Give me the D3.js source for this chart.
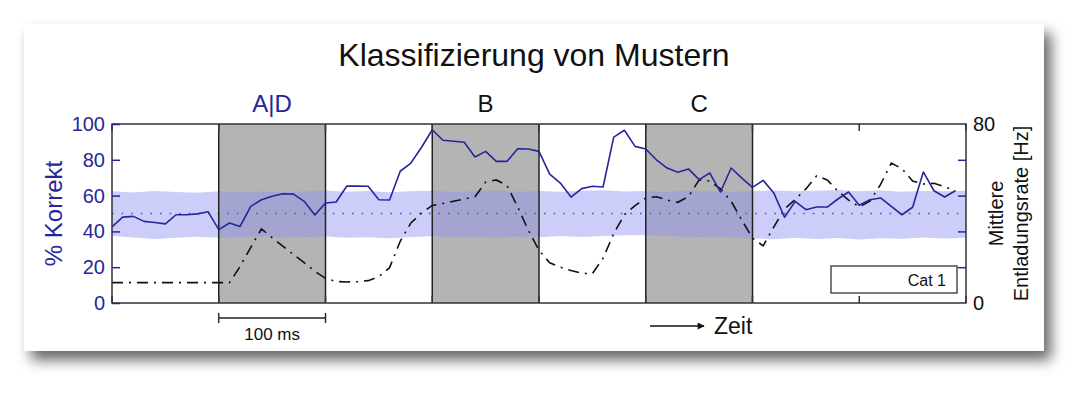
<!DOCTYPE html>
<html>
<head>
<meta charset="utf-8">
<script src="https://cdn.jsdelivr.net/npm/d3@7"></script>
<style>
  body { margin: 0; background: #fff; }
  svg { display: block; font-family: "Liberation Sans", Arial, sans-serif; }
</style>
</head>
<body>
<div id="chart"></div>
<script>
// time axis in ms, samples every 10 ms
const times = d3.range(0, 800, 10);

// % correct (left axis)
const pctCorrect = [
  42.5, 48, 48.4, 45.6, 45, 44.2, 49.3, 49.3, 49.8, 51,
  41, 44.7, 42.8, 54, 57.7, 59.6, 61, 60.8, 56.8, 49.2,
  55.9, 56.4, 65.4, 65.3, 65.2, 57.7, 57.5, 73.6, 78.2, 87,
  96.8, 90.9, 90.4, 89.8, 81.6, 84.7, 79.1, 79.1, 86.2, 86,
  84.7, 72, 67, 59.2, 63.9, 65.2, 64.8, 92.7, 96.5, 87.5,
  86, 80, 75.4, 73, 74.9, 68.9, 72.6, 62, 75.4, 69.8,
  64.6, 68.5, 61.4, 47.9, 56.8, 52.1, 53.6, 53.6, 58.1, 62,
  54.6, 57.7, 58.7, 54, 49.3, 53.5, 73.2, 62.7, 59.2, 62.7
];

// mean firing rate in Hz (right axis)
const firingRate = [
  9.1, 9.1, 9.1, 9.1, 9.1, 9.1, 9.1, 9.1, 9.1, 9.1,
  9.1, 9.1, 16.3, 24.9, 33.1, 29.2, 25.4, 21.7, 18, 14.2,
  11, 9.6, 9.4, 9.5, 10, 11.8, 15.8, 27.6, 35.8, 40.2,
  43.6, 44.5, 45.5, 46.5, 47.5, 54, 55, 52.5, 43, 32.5,
  23.5, 18, 16, 14.5, 13.3, 13.1, 20, 31, 39.5, 43.5,
  46.9, 47.5, 46, 45, 47.5, 55, 54.5, 51, 45.5, 37,
  29, 25.5, 34, 42, 46.3, 51, 56.8, 55, 50, 46,
  43, 45.5, 53, 62.5, 60, 54.5, 53.2, 53.5, 52, 50
];

// chance band (% correct), every 20 ms from 0 to 800
const bandTimes = d3.range(0, 801, 20);
const bandUpper = [
  62.5, 61.8, 62.6, 62.0, 61.6, 62.4, 61.9, 62.3, 61.7, 62.5,
  62.8, 62.2, 62.6, 61.9, 62.4, 62.7, 62.0, 62.4, 62.9, 62.2,
  62.6, 62.1, 62.7, 63.0, 62.3, 62.6, 62.0, 62.8, 62.4, 62.1,
  62.6, 62.9, 62.4, 62.7, 63.1, 62.5, 62.8, 62.2, 62.6, 62.4, 62.7
];
const bandLower = [
  37.5, 36.6, 35.8, 36.5, 37.0, 36.4, 36.8, 37.2, 36.5, 36.9,
  37.2, 36.4, 36.8, 36.2, 36.9, 37.3, 36.6, 37.0, 36.3, 37.1,
  36.7, 37.4, 36.9, 37.5, 37.9, 38.0, 37.4, 36.8, 37.0, 36.6,
  36.2, 35.6, 36.4, 35.8, 36.3, 35.5, 36.2, 35.9, 36.6, 36.1, 36.5
];

// stimulus windows
const stimuli = [
  { start: 100, end: 200, label: "A|D", color: "#24249b" },
  { start: 300, end: 400, label: "B", color: "#111" },
  { start: 500, end: 600, label: "C", color: "#111" }
];

const leftTicks = [0, 20, 40, 60, 80, 100];
const rightTicks = [0, 80];
const timeTicks = d3.range(0, 801, 100);

const blue = "#26269c";

const svg = d3.select("#chart").append("svg")
  .attr("width", 1092)
  .attr("height", 399);

// card with drop shadow
const defs = svg.append("defs");
const f = defs.append("filter").attr("id", "shadow")
  .attr("x", "-5%").attr("y", "-10%").attr("width", "112%").attr("height", "125%");
f.append("feDropShadow")
  .attr("dx", 7).attr("dy", 9).attr("stdDeviation", 7)
  .attr("flood-color", "#000").attr("flood-opacity", 0.6);

svg.append("rect")
  .attr("x", 24).attr("y", 24).attr("width", 1020).attr("height", 327)
  .attr("fill", "#fff")
  .attr("filter", "url(#shadow)");

const x = d3.scaleLinear().domain([0, 800]).range([112, 966]);
const yL = d3.scaleLinear().domain([0, 100]).range([303, 124]);
const yR = d3.scaleLinear().domain([0, 80]).range([303, 124]);

// grey stimulus boxes
svg.selectAll(".stim").data(stimuli).enter().append("rect")
  .attr("x", d => x(d.start))
  .attr("y", yL(100))
  .attr("width", d => x(d.end) - x(d.start))
  .attr("height", yL(0) - yL(100))
  .attr("fill", "#b4b4b4");

// chance band
const band = d3.area()
  .x((d, i) => x(bandTimes[i]))
  .y0((d, i) => yL(bandLower[i]))
  .y1((d, i) => yL(bandUpper[i]));
svg.append("path")
  .datum(bandUpper)
  .attr("d", band)
  .attr("fill", "rgb(146,146,244)")
  .attr("fill-opacity", 0.46);

// 50 % line
svg.append("line")
  .attr("x1", x(0)).attr("x2", x(800))
  .attr("y1", yL(50)).attr("y2", yL(50))
  .attr("stroke", "#5a5aa8")
  .attr("stroke-width", 1.6)
  .attr("stroke-dasharray", "1.6,8");

// box edges
const edges = stimuli.flatMap(d => [d.start, d.end]);
svg.selectAll(".edge").data(edges).enter().append("line")
  .attr("x1", d => x(d)).attr("x2", d => x(d))
  .attr("y1", yL(100)).attr("y2", yL(0))
  .attr("stroke", "#222").attr("stroke-width", 1.5);

// firing rate
const rateLine = d3.line()
  .x((d, i) => x(times[i]))
  .y(d => yR(d));
svg.append("path")
  .datum(firingRate)
  .attr("d", rateLine)
  .attr("fill", "none")
  .attr("stroke", "#111")
  .attr("stroke-width", 1.6)
  .attr("stroke-dasharray", "11,6,2,6");

// % correct
const pctLine = d3.line()
  .x((d, i) => x(times[i]))
  .y(d => yL(d));
svg.append("path")
  .datum(pctCorrect)
  .attr("d", pctLine)
  .attr("fill", "none")
  .attr("stroke", blue)
  .attr("stroke-width", 1.6)
  .attr("stroke-linejoin", "round");

// plot frame
svg.append("rect")
  .attr("x", x(0)).attr("y", yL(100))
  .attr("width", x(800) - x(0)).attr("height", yL(0) - yL(100))
  .attr("fill", "none").attr("stroke", "#333").attr("stroke-width", 1.5);

// time ticks top and bottom (inward)
const tickG = svg.append("g");
tickG.selectAll(".tb").data(timeTicks).enter().append("line")
  .attr("x1", d => x(d)).attr("x2", d => x(d))
  .attr("y1", yL(0)).attr("y2", yL(0) - 7)
  .attr("stroke", "#333").attr("stroke-width", 1.5);
tickG.selectAll(".tt").data(timeTicks).enter().append("line")
  .attr("x1", d => x(d)).attr("x2", d => x(d))
  .attr("y1", yL(100)).attr("y2", yL(100) + 7)
  .attr("stroke", "#333").attr("stroke-width", 1.5);

// left axis
const leftAxis = svg.append("g")
  .attr("transform", `translate(${x(0)},0)`)
  .call(d3.axisRight(yL).tickValues(leftTicks).tickSize(8).tickFormat(""));
leftAxis.select(".domain").remove();
leftAxis.selectAll("line").attr("stroke", blue).attr("stroke-width", 1.5);

svg.selectAll(".ll").data(leftTicks).enter().append("text")
  .attr("x", 105).attr("y", d => yL(d) + 7)
  .attr("text-anchor", "end")
  .attr("fill", blue)
  .style("font-size", "20px")
  .text(d => d);

svg.append("text")
  .attr("transform", `translate(62,${(yL(0) + yL(100)) / 2}) rotate(-90)`)
  .attr("text-anchor", "middle")
  .attr("fill", blue)
  .style("font-size", "24px")
  .text("% Korrekt");

// right side: blue ticks at % positions
const rightPct = svg.append("g")
  .attr("transform", `translate(${x(800)},0)`)
  .call(d3.axisLeft(yL).tickValues([20, 40, 60, 80]).tickSize(8).tickFormat(""));
rightPct.select(".domain").remove();
rightPct.selectAll("line").attr("stroke", blue).attr("stroke-width", 1.5);

svg.selectAll(".rl").data(rightTicks).enter().append("text")
  .attr("x", 973).attr("y", d => yR(d) + 7)
  .attr("fill", "#111")
  .style("font-size", "20px")
  .text(d => d);

const rTitle = svg.append("text")
  .attr("transform", `translate(1003,${(yL(0) + yL(100)) / 2}) rotate(-90)`)
  .attr("text-anchor", "middle")
  .attr("fill", "#111")
  .style("font-size", "20px");
rTitle.append("tspan").attr("x", 0).attr("dy", 0).text("Mittlere");
rTitle.append("tspan").attr("x", 0).attr("dy", 25).text("Entladungsrate [Hz]");

// stimulus labels
svg.selectAll(".sl").data(stimuli).enter().append("text")
  .attr("x", d => x((d.start + d.end) / 2))
  .attr("y", 112)
  .attr("text-anchor", "middle")
  .attr("fill", d => d.color)
  .style("font-size", "24px")
  .text(d => d.label);

// title
svg.append("text")
  .attr("x", 534).attr("y", 66)
  .attr("text-anchor", "middle")
  .attr("fill", "#111")
  .style("font-size", "32px")
  .text("Klassifizierung von Mustern");

// legend
svg.append("rect")
  .attr("x", 831).attr("y", 266).attr("width", 126).attr("height", 27)
  .attr("fill", "#fff").attr("stroke", "#333").attr("stroke-width", 1.3);
svg.append("text")
  .attr("x", 946).attr("y", 286)
  .attr("text-anchor", "end")
  .attr("fill", "#111")
  .style("font-size", "16px")
  .text("Cat 1");

// 100 ms scale bar
const sb = svg.append("g").attr("stroke", "#222").attr("stroke-width", 1.4);
sb.append("line").attr("x1", x(100)).attr("x2", x(200)).attr("y1", 318).attr("y2", 318);
sb.append("line").attr("x1", x(100)).attr("x2", x(100)).attr("y1", 313).attr("y2", 323);
sb.append("line").attr("x1", x(200)).attr("x2", x(200)).attr("y1", 313).attr("y2", 323);
svg.append("text")
  .attr("x", x(150)).attr("y", 340)
  .attr("text-anchor", "middle")
  .attr("fill", "#111")
  .style("font-size", "17px")
  .text("100 ms");

// time arrow
defs.append("marker").attr("id", "arrow")
  .attr("viewBox", "0 0 10 10").attr("refX", 9).attr("refY", 5)
  .attr("markerWidth", 11).attr("markerHeight", 7)
  .attr("markerUnits", "userSpaceOnUse")
  .attr("orient", "auto")
  .append("path").attr("d", "M0,0 L10,5 L0,10 z").attr("fill", "#111");
svg.append("line")
  .attr("x1", 650).attr("x2", 704).attr("y1", 326).attr("y2", 326)
  .attr("stroke", "#111").attr("stroke-width", 1.6)
  .attr("marker-end", "url(#arrow)");
svg.append("text")
  .attr("x", 714).attr("y", 334)
  .attr("fill", "#111")
  .style("font-size", "23px")
  .text("Zeit");
</script>
</body>
</html>
